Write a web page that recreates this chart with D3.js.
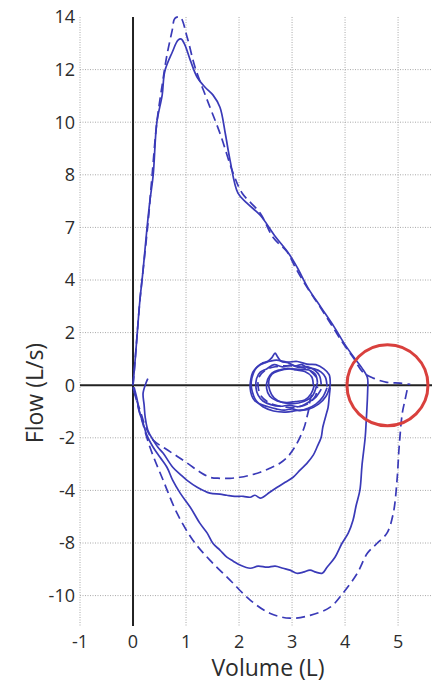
<!DOCTYPE html>
<html>
<head>
<meta charset="utf-8">
<script src="https://cdn.jsdelivr.net/npm/d3@7"></script>
<style>
  html, body { margin: 0; padding: 0; background: #fff; }
  svg { display: block; }
  text { font-family: "Open Sans", "Noto Sans", sans-serif; fill: #2c2c2c; }
</style>
</head>
<body>
<svg id="chart" width="436" height="687"></svg>
<script>
// Axis ticks (the flow axis is labelled with uneven values on an even grid)
const volumeTicks = [-1, 0, 1, 2, 3, 4, 5];
const flowTicks = [14, 12, 10, 8, 7, 4, 2, 0, -2, -4, -8, -10];

// Forced expiration, solid trial: [volume L, flow L/s]
const solidExpiration = [
  [0, 0], [0.04, 0.95], [0.08, 1.98], [0.13, 3.23], [0.19, 4.56], [0.26, 6.84],
  [0.32, 7.52], [0.38, 7.99], [0.45, 10.0], [0.55, 11.03], [0.6, 11.94],
  [0.74, 12.66], [0.85, 13.12], [0.91, 13.16], [0.98, 12.93], [1.08, 12.36],
  [1.21, 11.71], [1.36, 11.33], [1.51, 11.03], [1.64, 10.57], [1.74, 9.58],
  [1.83, 8.56], [1.98, 7.65], [2.15, 7.46], [2.4, 7.23], [2.68, 6.5],
  [2.94, 5.5], [3.1, 4.7], [3.3, 3.7], [3.55, 2.95], [3.8, 2.2], [3.98, 1.6],
  [4.17, 1.05], [4.32, 0.65], [4.42, 0.3], [4.43, 0]
];
// Forced inspiration back from residual volume, solid trial
const solidInspiration = [
  [4.43, 0], [4.42, -0.57], [4.4, -1.33], [4.38, -1.98], [4.32, -3.04], [4.28, -3.99],
  [4.21, -5.13], [4.15, -6.27], [4.06, -7.25], [3.94, -8.02], [3.81, -8.54],
  [3.66, -8.92], [3.57, -9.15], [3.45, -9.11], [3.34, -9.03], [3.21, -9.11],
  [3.09, -9.15], [2.96, -9.03], [2.83, -8.96], [2.68, -8.88], [2.53, -8.92],
  [2.36, -8.88], [2.21, -8.96], [2.02, -8.84], [1.89, -8.69], [1.77, -8.54],
  [1.64, -8.27], [1.51, -8.02], [1.4, -7.25], [1.26, -6.49], [1.08, -5.28],
  [0.89, -4.21], [0.75, -3.62], [0.64, -3.12], [0.51, -2.74], [0.38, -2.36],
  [0.26, -1.9], [0.19, -1.44], [0.11, -0.95], [0.08, -0.57], [0.02, -0.08]
];
// Forced expiration, dashed trial
const dashedExpiration = [
  [0, 0], [0.04, 0.95], [0.08, 1.98], [0.13, 3.23], [0.17, 4.0], [0.25, 6.27],
  [0.3, 7.27], [0.36, 7.99], [0.45, 10.0], [0.55, 11.41], [0.64, 12.55],
  [0.74, 13.5], [0.79, 13.95], [0.89, 13.99], [1.02, 13.24], [1.17, 12.09],
  [1.4, 10.84], [1.64, 9.58], [1.89, 8.06], [2.06, 7.65], [2.4, 7.27],
  [2.64, 6.44], [2.91, 5.59], [3.06, 4.73], [3.28, 3.73], [3.53, 2.97],
  [3.77, 2.21], [3.96, 1.6], [4.15, 1.06], [4.34, 0.49], [4.53, 0.27],
  [4.79, 0.11], [5.04, 0.08], [5.23, 0.03]
];
// Forced inspiration, dashed trial
const dashedInspiration = [
  [5.17, -0.19], [5.13, -0.57], [5.08, -1.06], [5.02, -2.36], [4.98, -3.62],
  [4.91, -5.73], [4.79, -7.25], [4.6, -8.02], [4.42, -8.39], [4.23, -9.15],
  [3.96, -9.91], [3.72, -10.44], [3.34, -10.75], [2.96, -10.86], [2.58, -10.67],
  [2.21, -10.17], [1.83, -9.41], [1.45, -8.65], [1.13, -7.79], [0.83, -5.73],
  [0.57, -3.62], [0.32, -2.36], [0.13, -1.06], [0.04, -0.38], [0, -0.08]
];
// Inspiration from tidal breathing, solid trial
const solidTidalInspiration = [
  [0.28, 0.25], [0.25, 0.11], [0.19, -0.3], [0.21, -0.76], [0.23, -1.22],
  [0.28, -1.71], [0.38, -2.09], [0.47, -2.36], [0.57, -2.59], [0.75, -3.12],
  [0.89, -3.39], [1.02, -3.62], [1.21, -3.88], [1.45, -4.21], [1.64, -4.29],
  [1.77, -4.37], [1.92, -4.45], [2.08, -4.45], [2.21, -4.52], [2.3, -4.37],
  [2.4, -4.59], [2.45, -4.52], [2.58, -4.14], [2.72, -3.88], [2.87, -3.69],
  [3.02, -3.5], [3.15, -3.23], [3.28, -2.97], [3.4, -2.66], [3.47, -2.36],
  [3.55, -1.98], [3.58, -1.6], [3.64, -1.14], [3.68, -0.84], [3.7, -0.46],
  [3.72, -0.08]
];
// Inspiration from tidal breathing, dashed trial
const dashedTidalInspiration = [
  [0, -0.08], [0.06, -0.5], [0.14, -1.0], [0.24, -1.6], [0.38, -2.09],
  [0.6, -2.4], [0.83, -2.7], [1.05, -3.0], [1.26, -3.3], [1.45, -3.5],
  [1.64, -3.54], [1.83, -3.54], [2.02, -3.5], [2.21, -3.42], [2.4, -3.31],
  [2.58, -3.16], [2.77, -2.97], [2.91, -2.74], [3.04, -2.39], [3.15, -1.98],
  [3.23, -1.6], [3.28, -1.22], [3.32, -0.87], [3.34, -0.57], [3.38, -0.3]
];
// Tidal breathing loops
const tidalLoopA = [
  [3.66, -0.05], [3.63, 0.3], [3.55, 0.5], [3.42, 0.62], [3.3, 0.66], [3.18, 0.78],
  [3.05, 0.74], [2.92, 0.86], [2.8, 0.9], [2.72, 1.1], [2.68, 1.22], [2.62, 1.05],
  [2.55, 0.92], [2.45, 0.85], [2.35, 0.7], [2.26, 0.5], [2.22, 0.2], [2.21, -0.1],
  [2.24, -0.4], [2.3, -0.6], [2.4, -0.72], [2.55, -0.82], [2.7, -0.9], [2.85, -0.95],
  [3.0, -0.9], [3.15, -0.97], [3.3, -0.88], [3.45, -0.72], [3.58, -0.45], [3.66, -0.1]
];
const tidalLoopB = [
  [3.55, 0.02], [3.52, 0.35], [3.44, 0.55], [3.3, 0.7], [3.12, 0.68], [2.98, 0.76],
  [2.82, 0.7], [2.66, 0.78], [2.52, 0.62], [2.4, 0.5], [2.33, 0.25], [2.32, -0.1],
  [2.36, -0.38], [2.45, -0.6], [2.6, -0.74], [2.78, -0.8], [2.95, -0.76],
  [3.12, -0.82], [3.3, -0.66], [3.45, -0.45], [3.55, -0.15]
];
const tidalLoopC = [
  [3.4, 0], [3.37, 0.32], [3.24, 0.52], [3.08, 0.58], [2.92, 0.64], [2.76, 0.58],
  [2.62, 0.46], [2.54, 0.22], [2.52, -0.12], [2.58, -0.42], [2.72, -0.6],
  [2.9, -0.66], [3.06, -0.62], [3.24, -0.56], [3.36, -0.32], [3.42, 0]
];
const tidalLoopD = [
  [3.72, 0.0], [3.7, 0.4], [3.6, 0.62], [3.45, 0.78], [3.28, 0.8], [3.1, 0.9],
  [2.9, 0.88], [2.7, 0.95], [2.5, 0.86], [2.35, 0.72], [2.27, 0.45], [2.23, 0.12],
  [2.25, -0.25], [2.32, -0.58], [2.45, -0.82], [2.65, -0.98], [2.88, -1.02],
  [3.1, -0.96], [3.3, -0.92], [3.5, -0.72], [3.64, -0.42], [3.72, 0]
];
const tidalLoopE = [
  [3.48, 0.1], [3.44, 0.42], [3.32, 0.58], [3.14, 0.6], [2.95, 0.62], [2.76, 0.55],
  [2.62, 0.42], [2.56, 0.15], [2.58, -0.2], [2.66, -0.48], [2.82, -0.66],
  [3.02, -0.7], [3.22, -0.62], [3.38, -0.42], [3.48, 0.1]
];
const dashedTidalLoop = [
  [3.46, 0.3], [3.32, 0.58], [3.12, 0.7], [2.9, 0.74], [2.68, 0.7], [2.5, 0.58],
  [2.38, 0.32], [2.36, -0.05], [2.42, -0.42], [2.58, -0.68], [2.82, -0.82],
  [3.08, -0.84], [3.3, -0.7], [3.44, -0.42], [3.48, -0.05]
];

// Highlighted end-of-expiration region
const highlight = { volume: 4.8, flow: 0 };

const svg = d3.select("#chart");

const plot = { left: 80, right: 432, top: 17, step: 52.6 };

const x = d3.scaleLinear().domain([-1, 5.64]).range([plot.left, plot.right]);

// Even spacing between flow gridlines, whatever their labels
const yDomain = flowTicks.slice().reverse();
const yRange = yDomain.map((d, i) => plot.top + (flowTicks.length - 1 - i) * plot.step);
const y = d3.scaleLinear().domain(yDomain).range(yRange);
const plotBottom = y(-10) + 0.58 * plot.step;

// Dotted grid
const grid = svg.append("g")
  .attr("stroke", "#a8a8a8")
  .attr("stroke-width", 1)
  .attr("stroke-dasharray", "1,1.5");

grid.selectAll("line.h")
  .data(flowTicks.filter(d => d !== 14 && d !== 0))
  .join("line")
  .attr("class", "h")
  .attr("x1", plot.left).attr("x2", plot.right)
  .attr("y1", d => y(d)).attr("y2", d => y(d));

grid.selectAll("line.v")
  .data(volumeTicks.filter(d => d !== 0))
  .join("line")
  .attr("class", "v")
  .attr("x1", d => x(d)).attr("x2", d => x(d))
  .attr("y1", plot.top).attr("y2", plotBottom);

// Zero axes
svg.append("line")
  .attr("x1", x(0)).attr("x2", x(0))
  .attr("y1", plot.top).attr("y2", plotBottom)
  .attr("stroke", "#222").attr("stroke-width", 2);
svg.append("line")
  .attr("x1", plot.left).attr("x2", plot.right)
  .attr("y1", y(0)).attr("y2", y(0))
  .attr("stroke", "#222").attr("stroke-width", 2);

// Tick labels
svg.append("g").selectAll("text")
  .data(flowTicks)
  .join("text")
  .attr("x", 75)
  .attr("y", d => y(d))
  .attr("dy", "0.36em")
  .attr("text-anchor", "end")
  .attr("font-size", 18)
  .text(d => d);

svg.append("g").selectAll("text")
  .data(volumeTicks)
  .join("text")
  .attr("x", d => x(d))
  .attr("y", 648)
  .attr("text-anchor", "middle")
  .attr("font-size", 18)
  .text(d => d);

// Axis titles
svg.append("text")
  .attr("x", 268)
  .attr("y", 676)
  .attr("text-anchor", "middle")
  .attr("font-size", 23)
  .text("Volume (L)");

svg.append("text")
  .attr("transform", "translate(43,393) rotate(-90)")
  .attr("text-anchor", "middle")
  .attr("font-size", 23)
  .text("Flow (L/s)");

// Flow-volume curves
const line = d3.line()
  .x(d => x(d[0]))
  .y(d => y(d[1]))
  .curve(d3.curveCatmullRom.alpha(0.5));

const blue = "#3a3ab8";

const solidCurves = [solidExpiration, solidInspiration, solidTidalInspiration,
  tidalLoopA, tidalLoopB, tidalLoopC, tidalLoopD, tidalLoopE];
const dashedCurves = [dashedExpiration, dashedInspiration, dashedTidalInspiration,
  dashedTidalLoop];

svg.append("g").selectAll("path")
  .data(solidCurves)
  .join("path")
  .attr("d", line)
  .attr("fill", "none")
  .attr("stroke", blue)
  .attr("stroke-width", 1.7)
  .attr("stroke-linejoin", "round");

svg.append("g").selectAll("path")
  .data(dashedCurves)
  .join("path")
  .attr("d", line)
  .attr("fill", "none")
  .attr("stroke", blue)
  .attr("stroke-width", 1.7)
  .attr("stroke-dasharray", "9,5");

// Highlight circle
svg.append("circle")
  .attr("cx", x(highlight.volume))
  .attr("cy", y(highlight.flow))
  .attr("r", 40.5)
  .attr("fill", "none")
  .attr("stroke", "#d9403d")
  .attr("stroke-width", 3);
</script>
</body>
</html>
